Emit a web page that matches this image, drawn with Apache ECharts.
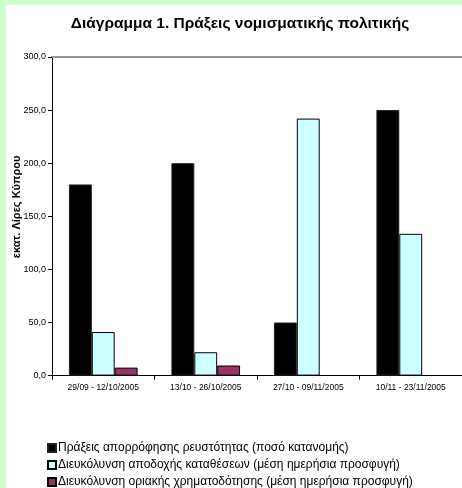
<!DOCTYPE html>
<html>
<head>
<meta charset="utf-8">
<script src="https://cdn.jsdelivr.net/npm/echarts@6/dist/echarts.min.js"></script>
<style>
  html, body { margin: 0; padding: 0; background: #ffffff; }
  #chart { width: 462px; height: 488px; }
</style>
</head>
<body>
<div id="chart"></div>
<script>
// Periods of monetary policy operations
const periods = ['29/09 - 12/10/2005', '13/10 - 26/10/2005', '27/10 - 09/11/2005', '10/11 - 23/11/2005'];

// Series values (million Cyprus pounds)
const absorption = [180, 200, 50, 250];
const depositFacility = [41, 22, 242, 133.5];
const marginalLending = [7.5, 9.5, null, null];

const seriesNames = [
  'Πράξεις απορρόφησης ρευστότητας (ποσό κατανομής)',
  'Διευκόλυνση αποδοχής καταθέσεων (μέση ημερήσια προσφυγή)',
  'Διευκόλυνση οριακής χρηματοδότησης (μέση ημερήσια προσφυγή)'
];

const chart = echarts.init(document.getElementById('chart'), null, { renderer: 'canvas' });
const font = 'Liberation Sans, Arial, sans-serif';

// one legend row per series, stacked under the plot
const legendRows = seriesNames.map((name, i) => ({
  orient: 'horizontal',
  left: 44,
  top: 442 + i * 17,
  itemWidth: 8,
  itemHeight: 8,
  itemGap: 0,
  padding: [0, 3],
  icon: 'rect',
  textStyle: { fontFamily: font, fontSize: 12, color: '#000', padding: [0, 0, 0, -3] },
  data: [name]
}));

chart.setOption({
  backgroundColor: '#ffffff',
  animation: false,
  textStyle: { fontFamily: font },
  graphic: [
    { type: 'rect', left: 0, top: 0, shape: { width: 462, height: 5 }, style: { fill: '#CCFFCC' }, silent: true },
    { type: 'rect', left: 0, top: 0, shape: { width: 6, height: 488 }, style: { fill: '#CCFFCC' }, silent: true },
    {
      type: 'text', x: 17, y: 207, rotation: Math.PI / 2, silent: true,
      style: {
        text: 'εκατ. Λίρες Κύπρου', fill: '#000',
        font: 'bold 11px ' + font, align: 'center', verticalAlign: 'middle'
      }
    }
  ],
  title: {
    text: 'Διάγραμμα 1. Πράξεις νομισματικής πολιτικής',
    left: 235,
    textAlign: 'center',
    top: 11,
    textStyle: { fontFamily: font, fontSize: 15.5, fontWeight: 'bold', color: '#000' }
  },
  legend: legendRows,
  grid: { left: 52, top: 57, width: 412, height: 318.6, containLabel: false },
  xAxis: [
    {
      type: 'category',
      data: periods,
      axisLine: { lineStyle: { color: '#000', width: 1 } },
      axisTick: { show: true, length: 4, lineStyle: { color: '#000' } },
      axisLabel: { fontFamily: font, fontSize: 8.5, color: '#000', margin: 8 },
      splitLine: { show: false }
    },
    {
      type: 'category',
      position: 'top',
      data: periods,
      axisLine: { lineStyle: { color: '#999999', width: 2 } },
      axisTick: { show: false },
      axisLabel: { show: false },
      splitLine: { show: false }
    }
  ],
  yAxis: {
    type: 'value',
    min: 0,
    max: 300,
    interval: 50,
    axisLine: { show: true, lineStyle: { color: '#000', width: 1 } },
    axisTick: { show: true, length: 4, lineStyle: { color: '#000' } },
    axisLabel: {
      fontFamily: font, fontSize: 9, color: '#000', margin: 6,
      formatter: v => v.toFixed(1).replace('.', ',')
    },
    splitLine: { show: false }
  },
  series: [
    {
      name: seriesNames[0], type: 'bar', data: absorption,
      barGap: '0%', barCategoryGap: '33%',
      itemStyle: { color: '#000000', borderColor: '#222', borderWidth: 1 }
    },
    {
      name: seriesNames[1], type: 'bar', data: depositFacility,
      itemStyle: { color: '#CCFFFF', borderColor: '#000', borderWidth: 1 }
    },
    {
      name: seriesNames[2], type: 'bar', data: marginalLending,
      itemStyle: { color: '#993366', borderColor: '#000', borderWidth: 1 }
    }
  ]
});
</script>
</body>
</html>
